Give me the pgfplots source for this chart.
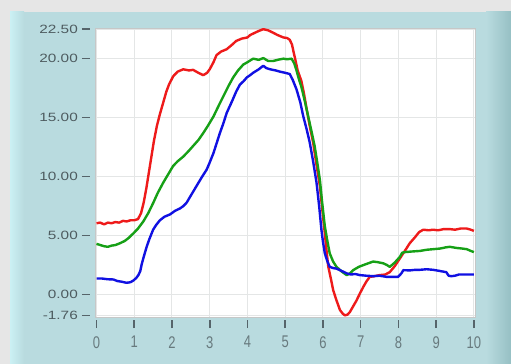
\documentclass[border=0pt]{standalone}
\usepackage{pgfplots}
\pgfplotsset{compat=1.18}
\usepackage{graphicx}
\usepackage{fontspec}
\setmainfont{Liberation Sans}

\definecolor{frame}{HTML}{E6E6E6}
\definecolor{panel}{HTML}{B9DBDF}
\definecolor{panelhi}{HTML}{CBF0F4}
\definecolor{panelshade}{HTML}{96C0C4}
\definecolor{gridc}{HTML}{E4E6E6}
\definecolor{tickc}{HTML}{56646A}
\definecolor{labc}{HTML}{4E5C60}
\definecolor{xlabc}{HTML}{687A7E}
\definecolor{sred}{HTML}{EE1A1A}
\definecolor{sgreen}{HTML}{16A016}
\definecolor{sblue}{HTML}{1010E2}

\newcommand{\ylab}[1]{\scalebox{1.28}[1]{#1}}
\newcommand{\xlab}[1]{\scalebox{1}[1.3]{#1}}

\begin{document}
\begin{tikzpicture}
% instrument panel behind the graph
\fill[frame] (0,0) rectangle (511bp,364bp);
\fill[panel] (10bp,0) rectangle (511bp,352bp);
\shade[left color=panelhi, right color=panel] (10bp,0) rectangle (24bp,352bp);
\shade[left color=panel, right color=panelshade] (486bp,0) rectangle (511bp,352bp);

\begin{axis}[
  at={(95bp,47bp)}, anchor=south west,
  scale only axis, width=380bp, height=289bp,
  xmin=-0.04, xmax=10.03, ymin=-1.9, ymax=22.6,
  axis background/.style={fill=white},
  axis line style={draw=gridc!70!gray, line width=0.7bp},
  grid=major, major grid style={draw=gridc, line width=1bp},
  tick pos=left, tick align=outside, major tick length=8bp,
  xtick={0,1,...,10},
  xticklabels={\xlab{0},\xlab{1},\xlab{2},\xlab{3},\xlab{4},\xlab{5},\xlab{6},\xlab{7},\xlab{8},\xlab{9},\xlab{10}},
  ytick={-1.76,0,5,10,15,20,22.5},
  yticklabels={\ylab{-1.76},\ylab{0.00},\ylab{5.00},\ylab{10.00},\ylab{15.00},\ylab{20.00},\ylab{22.50}},
  xtick style={draw=tickc, line width=1.6bp, yshift=-3bp},
  ytick style={draw=tickc, line width=1.6bp, xshift=-5bp},
  xticklabel style={font=\fontsize{13bp}{13bp}\selectfont, text=xlabc, inner sep=0pt, anchor=north, yshift=-11bp},
  yticklabel style={font=\fontsize{12bp}{12bp}\selectfont, text=labc, inner sep=0pt, anchor=east, xshift=-9bp},
  clip=true,
  every axis plot/.append style={line width=2.4bp, line join=round},
]
% channel 1
\addplot[sred] coordinates {
(0,6.05) (0.1,6.1) (0.2,5.95) (0.3,6.1) (0.4,6.05) (0.5,6.15) (0.6,6.1) (0.7,6.25)
(0.8,6.2) (0.9,6.3) (1.0,6.3) (1.1,6.4) (1.18,6.9) (1.25,7.8) (1.32,9.0) (1.37,10.0)
(1.45,11.6) (1.52,13.0) (1.6,14.3) (1.68,15.3) (1.77,16.3) (1.85,17.2) (1.92,17.8)
(2.03,18.5) (2.15,18.9) (2.3,19.1) (2.45,19.0) (2.56,19.05) (2.7,18.8) (2.83,18.6)
(2.93,18.8) (3.0,19.1) (3.1,19.7) (3.18,20.3) (3.3,20.6) (3.45,20.8) (3.6,21.2)
(3.7,21.5) (3.85,21.7) (4.0,21.8) (4.07,22.0) (4.2,22.2) (4.3,22.35) (4.42,22.5)
(4.55,22.4) (4.68,22.2) (4.8,22.0) (4.95,21.8) (5.05,21.75) (5.12,21.6) (5.18,21.2)
(5.22,20.6) (5.27,19.9) (5.33,19.0) (5.43,18.1) (5.5,17.0) (5.57,15.7) (5.65,14.3)
(5.74,12.9) (5.83,11.0) (5.92,9.2) (5.98,7.3) (6.05,5.2) (6.1,3.6) (6.14,2.4)
(6.18,1.8) (6.22,1.2) (6.27,0.4) (6.35,-0.4) (6.45,-1.3) (6.52,-1.6) (6.58,-1.76)
(6.65,-1.7) (6.71,-1.5) (6.8,-1.0) (6.89,-0.5) (6.98,0.1) (7.07,0.65) (7.15,1.1)
(7.24,1.5) (7.35,1.55) (7.5,1.65) (7.65,1.7) (7.77,1.9) (7.9,2.4) (8.04,3.07)
(8.17,3.7) (8.3,4.35) (8.45,4.9) (8.55,5.3) (8.66,5.5) (8.8,5.45) (8.92,5.5)
(9.05,5.45) (9.2,5.55) (9.36,5.55) (9.5,5.5) (9.65,5.6) (9.81,5.6) (9.92,5.5) (10.0,5.4)
};
% channel 2
\addplot[sgreen] coordinates {
(0,4.3) (0.1,4.2) (0.2,4.1) (0.3,4.05) (0.4,4.15) (0.5,4.2) (0.62,4.35) (0.75,4.55)
(0.85,4.8) (0.98,5.2) (1.1,5.6) (1.24,6.2) (1.37,6.9) (1.5,7.75) (1.62,8.6) (1.77,9.5)
(1.9,10.2) (2.03,10.9) (2.15,11.3) (2.3,11.7) (2.45,12.2) (2.56,12.6) (2.7,13.1)
(2.83,13.7) (2.95,14.3) (3.1,15.1) (3.22,15.9) (3.36,16.8) (3.5,17.7) (3.62,18.4)
(3.75,19.0) (3.89,19.5) (4.0,19.7) (4.15,20.0) (4.3,19.9) (4.42,20.05) (4.55,19.8)
(4.68,19.8) (4.8,19.9) (4.95,20.0) (5.05,19.95) (5.17,20.0) (5.24,19.6) (5.3,19.0)
(5.36,18.3) (5.43,17.6) (5.52,16.4) (5.61,15.1) (5.7,13.8) (5.78,12.6) (5.85,11.2)
(5.92,9.7) (5.98,7.8) (6.05,5.8) (6.12,4.5) (6.18,3.5) (6.27,2.8) (6.36,2.35)
(6.5,1.95) (6.63,1.65) (6.72,1.8) (6.8,2.07) (6.95,2.35) (7.07,2.5) (7.2,2.65)
(7.33,2.8) (7.45,2.75) (7.6,2.65) (7.7,2.5) (7.77,2.35) (7.9,2.7) (8.04,3.2)
(8.1,3.55) (8.17,3.6) (8.35,3.65) (8.57,3.7) (8.75,3.8) (8.92,3.85) (9.1,3.9)
(9.25,4.0) (9.36,4.05) (9.55,3.95) (9.7,3.9) (9.81,3.85) (9.92,3.7) (10,3.6)
};
% channel 3
\addplot[sblue] coordinates {
(0,1.36) (0.15,1.36) (0.3,1.3) (0.45,1.28) (0.55,1.15) (0.65,1.1) (0.8,1.0) (0.9,1.05)
(0.98,1.2) (1.05,1.4) (1.11,1.65) (1.16,2.0) (1.2,2.6) (1.26,3.3) (1.33,4.06) (1.4,4.7)
(1.5,5.5) (1.58,5.9) (1.68,6.3) (1.8,6.6) (1.95,6.8) (2.08,7.1) (2.21,7.3) (2.3,7.5)
(2.39,7.8) (2.5,8.4) (2.65,9.2) (2.8,10.0) (2.92,10.6) (3.0,11.2) (3.1,12.0)
(3.18,12.8) (3.27,13.7) (3.36,14.5) (3.45,15.4) (3.55,16.1) (3.62,16.6) (3.7,17.2)
(3.8,17.8) (3.9,18.1) (3.98,18.4) (4.07,18.6) (4.15,18.8) (4.3,19.1) (4.42,19.4)
(4.5,19.2) (4.6,19.1) (4.75,19.0) (4.86,18.9) (5.0,18.8) (5.12,18.7) (5.2,18.2)
(5.3,17.4) (5.4,16.3) (5.48,15.1) (5.57,14.0) (5.65,12.9) (5.74,11.3) (5.83,9.5)
(5.9,7.5) (5.96,5.5) (6.0,4.5) (6.05,3.5) (6.12,2.8) (6.18,2.35) (6.27,2.25)
(6.36,2.2) (6.5,2.0) (6.63,1.8) (6.75,1.7) (6.85,1.75) (6.98,1.65) (7.15,1.6)
(7.33,1.56) (7.5,1.6) (7.69,1.5) (7.85,1.5) (7.99,1.5) (8.08,1.8) (8.13,2.07)
(8.3,2.05) (8.45,2.1) (8.57,2.1) (8.75,2.15) (8.92,2.1) (9.1,2.0) (9.27,1.9)
(9.33,1.6) (9.4,1.56) (9.5,1.6) (9.6,1.7) (9.8,1.7) (10,1.7)
};
\end{axis}
\pgfresetboundingbox
\useasboundingbox (0,0) rectangle (511bp,364bp);
\end{tikzpicture}
\end{document}
